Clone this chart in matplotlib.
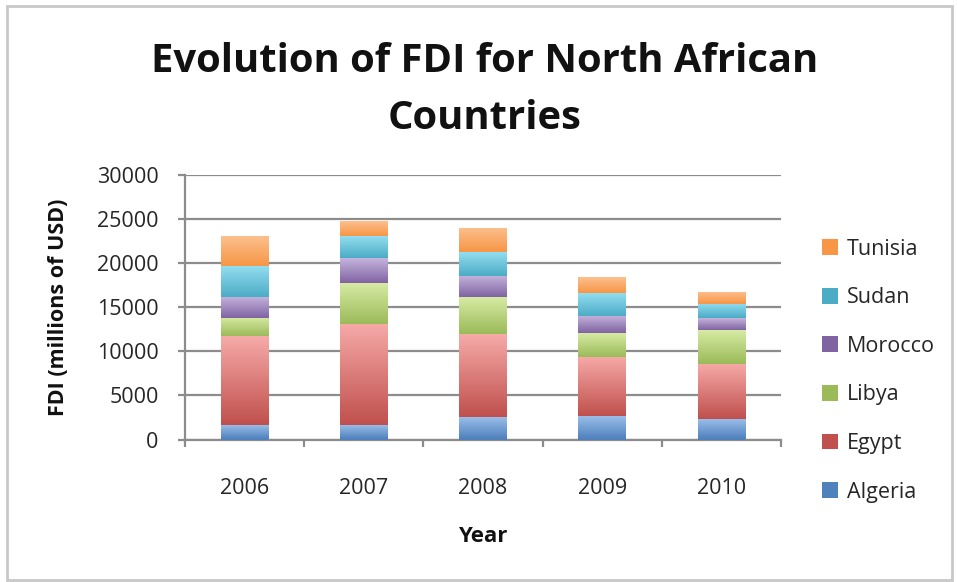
import matplotlib
matplotlib.use("Agg")
import matplotlib.pyplot as plt
import numpy as np
from matplotlib.patches import Rectangle
from matplotlib.colors import to_rgb

plt.rcParams['font.family'] = ['Open Sans', 'DejaVu Sans']

years = ['2006', '2007', '2008', '2009', '2010']
countries = ['Algeria', 'Egypt', 'Libya', 'Morocco', 'Sudan', 'Tunisia']
algeria = [1700, 1600, 2580, 2700, 2270]
egypt = [10000, 11550, 9380, 6700, 6280]
libya = [2050, 4650, 4150, 2650, 3850]
morocco = [2450, 2800, 2420, 2000, 1330]
sudan = [3500, 2450, 2680, 2600, 1590]
tunisia = [3350, 1700, 2800, 1740, 1440]
series = [algeria, egypt, libya, morocco, sudan, tunisia]
colors = ['#4F81BD', '#C0504D', '#9BBB59', '#8064A2', '#4BACC6', '#F79646']
light = ['#9DC0EA', '#F6AAA8', '#D6EAA3', '#C5B4DD', '#93DDF0', '#FCC08E']

W, H = 958, 582
fig = plt.figure(figsize=(W / 100, H / 100), dpi=100)
ax = fig.add_axes([185 / W, 1 - 439.5 / H, (781 - 185) / W, (439.5 - 175) / H])

x = np.arange(len(years))
bottom = np.zeros(len(years))
handles = []
for vals, c, lc, name in zip(series, colors, light, countries):
    bars = ax.bar(x, vals, width=0.4, bottom=bottom, color=c, label=name,
                  zorder=3, linewidth=0)
    for b in bars:
        x0, y0 = b.get_x(), b.get_y()
        w, h = b.get_width(), b.get_height()
        grad = np.linspace(0, 1, 64)[:, None, None]
        img = (1 - grad) * np.array(to_rgb(lc)) + grad * np.array(to_rgb(c))
        im = ax.imshow(img, extent=(x0, x0 + w, y0, y0 + h), aspect='auto',
                       origin='upper', zorder=4, interpolation='bilinear')
        im.set_clip_path(b)
    handles.append(bars)
    bottom = bottom + np.array(vals)

ax.set_xlim(-0.5, 4.5)
ax.set_ylim(0, 30000)
ax.set_yticks(np.arange(0, 30001, 5000))
ax.set_yticklabels([str(v) for v in range(0, 30001, 5000)])
ax.set_xticks(x)
ax.set_xticklabels(years)
ax.set_xticks(np.arange(-0.5, 4.6, 1.0), minor=True)

ax.grid(axis='y', color='#8C8C8C', linewidth=1.6, zorder=0)
ax.set_axisbelow(True)
for s in ['top', 'right']:
    ax.spines[s].set_visible(False)
for s in ['left', 'bottom']:
    ax.spines[s].set_color('#8C8C8C')
    ax.spines[s].set_linewidth(1.6)

ax.tick_params(axis='x', which='major', length=0, pad=28, labelsize=15.5,
               labelcolor='#262626')
ax.tick_params(axis='x', which='minor', length=5, width=1.6, color='#8C8C8C',
               direction='out')
ax.tick_params(axis='y', length=5, width=1.6, color='#8C8C8C', pad=14,
               labelsize=15.5, labelcolor='#262626')

fig.text(485 / W, 1 - 62 / H, 'Evolution of FDI for North African',
         ha='center', va='center', fontsize=28.8, fontweight='bold', color='#111111')
fig.text(485 / W, 1 - 119 / H, 'Countries',
         ha='center', va='center', fontsize=28.8, fontweight='bold', color='#111111')
fig.text(483 / W, 1 - 536 / H, 'Year', ha='center', va='center',
         fontsize=16, fontweight='bold', color='#111111')
fig.text(58 / W, 1 - 307 / H, 'FDI (millions of USD)', ha='center', va='center',
         rotation=90, fontsize=15.5, fontweight='bold', color='#111111')

leg = fig.legend([h[0] for h in handles[::-1]], countries[::-1],
                 loc='upper left', bbox_to_anchor=(811 / W, 1 - 228 / H),
                 frameon=False, fontsize=15.5, handlelength=0.75,
                 handleheight=0.75, handletextpad=0.4, labelspacing=1.28,
                 borderpad=0, labelcolor='#262626')

fig.add_artist(Rectangle((7 / W, 2 / H), (952 - 7) / W, (576 - 2) / H,
                         transform=fig.transFigure, fill=False,
                         edgecolor='#C8C8C8', linewidth=2))

fig.savefig('out.png', dpi=100)
